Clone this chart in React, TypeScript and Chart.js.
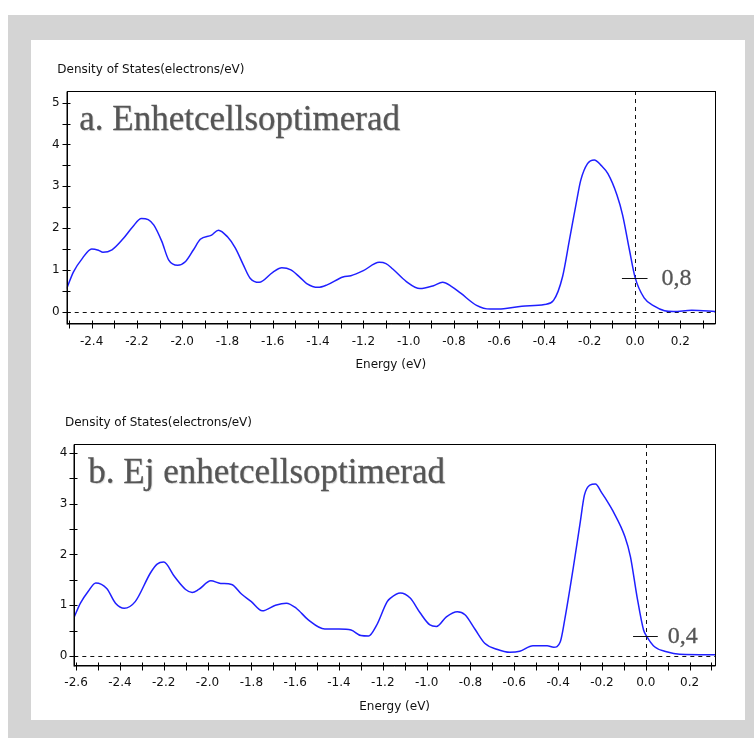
import React, { useEffect, useRef } from "react";
import { Chart, registerables } from "chart.js";

Chart.register(...registerables);

// ---------- Data: chart a ----------
const topEnergy = [
  -2.51, -2.48, -2.44, -2.40, -2.37, -2.35, -2.31, -2.26, -2.22, -2.18, -2.15, -2.125,
  -2.09, -2.06, -2.02, -1.985, -1.95, -1.92, -1.87, -1.84, -1.80, -1.765, -1.73, -1.70,
  -1.66, -1.60, -1.56, -1.52, -1.48, -1.45, -1.40, -1.36, -1.29, -1.255, -1.20, -1.13,
  -1.10, -1.07, -1.01, -0.95, -0.89, -0.85, -0.81, -0.77, -0.70, -0.64, -0.58, -0.50,
  -0.40, -0.36, -0.32, -0.29, -0.26, -0.24, -0.21, -0.18, -0.15, -0.12, -0.08, -0.055,
  -0.025, 0.0, 0.04, 0.085, 0.13, 0.17, 0.25, 0.36,
];
const topDos = [
  0.55, 0.95, 1.28, 1.50, 1.47, 1.42, 1.48, 1.75, 2.02, 2.23, 2.20, 2.07,
  1.68, 1.24, 1.11, 1.20, 1.48, 1.73, 1.83, 1.95, 1.79, 1.52, 1.12, 0.80,
  0.70, 0.94, 1.05, 1.00, 0.82, 0.67, 0.58, 0.64, 0.83, 0.86, 0.98, 1.18,
  1.15, 1.02, 0.72, 0.55, 0.62, 0.70, 0.60, 0.44, 0.15, 0.06, 0.07, 0.13,
  0.17, 0.27, 0.84, 1.71, 2.59, 3.14, 3.54, 3.63, 3.50, 3.30, 2.79, 2.31,
  1.48, 0.82, 0.33, 0.13, 0.02, 0.0, 0.03, 0.0,
];
const topXTicks = [-2.4, -2.2, -2.0, -1.8, -1.6, -1.4, -1.2, -1.0, -0.8, -0.6, -0.4, -0.2, 0.0, 0.2];
const topYTicks = [0, 1, 2, 3, 4, 5];
const topXRange = [-2.51, 0.353];
const topYRange = [-0.28, 5.28];
const topLabel = "a. Enhetcellsoptimerad";
const topMarker = 0.8;
const topMarkerLabel = "0,8";

// ---------- Data: chart b ----------
const bottomEnergy = [
  -2.61, -2.58, -2.545, -2.51, -2.46, -2.42, -2.38, -2.33, -2.26, -2.23, -2.20, -2.15,
  -2.10, -2.07, -2.04, -1.985, -1.94, -1.89, -1.845, -1.80, -1.75, -1.69, -1.64, -1.595,
  -1.54, -1.465, -1.40, -1.345, -1.30, -1.265, -1.23, -1.18, -1.165, -1.12, -1.075, -1.03,
  -0.985, -0.955, -0.91, -0.86, -0.825, -0.78, -0.735, -0.68, -0.62, -0.575, -0.515, -0.45,
  -0.42, -0.39, -0.37, -0.33, -0.30, -0.28, -0.255, -0.23, -0.20, -0.17, -0.15, -0.095,
  -0.07, -0.04, -0.01, 0.005, 0.04, 0.095, 0.155, 0.32,
];
const bottomDos = [
  0.75, 1.04, 1.27, 1.44, 1.33, 1.04, 0.94, 1.07, 1.64, 1.81, 1.85, 1.56,
  1.31, 1.25, 1.31, 1.48, 1.43, 1.41, 1.22, 1.07, 0.89, 1.00, 1.04, 0.94,
  0.71, 0.53, 0.53, 0.51, 0.40, 0.39, 0.59, 1.07, 1.14, 1.24, 1.14, 0.85,
  0.61, 0.58, 0.77, 0.87, 0.81, 0.53, 0.25, 0.13, 0.07, 0.09, 0.20, 0.20,
  0.17, 0.28, 0.71, 1.76, 2.61, 3.17, 3.37, 3.39, 3.21, 3.01, 2.86, 2.35,
  1.96, 1.17, 0.51, 0.38, 0.18, 0.08, 0.03, 0.02,
];
const bottomXTicks = [-2.6, -2.4, -2.2, -2.0, -1.8, -1.6, -1.4, -1.2, -1.0, -0.8, -0.6, -0.4, -0.2, 0.0, 0.2];
const bottomYTicks = [0, 1, 2, 3, 4];
const bottomXRange = [-2.608, 0.316];
const bottomYRange = [-0.18, 4.18];
const bottomLabel = "b. Ej enhetcellsoptimerad";
const bottomMarker = 0.4;
const bottomMarkerLabel = "0,4";

const markerSpan = [-0.058, 0.055];
const yTitle = "Density of States(electrons/eV)";
const xTitle = "Energy (eV)";

const AXIS_FONT = { family: "DejaVu Sans", size: 12 };

const decorPlugin = {
  id: "decor",
  beforeDatasetsDraw(chart: any, _args: any, opts: any) {
    const { ctx, chartArea: a, scales } = chart;
    const x = scales.x;
    const y = scales.y;
    ctx.save();
    ctx.beginPath();
    ctx.rect(a.left, a.top, a.right - a.left, a.bottom - a.top);
    ctx.clip();
    ctx.setLineDash([4, 4]);
    ctx.strokeStyle = "#111";
    ctx.lineWidth = 1;
    const y0 = Math.round(y.getPixelForValue(0)) + 0.5;
    ctx.beginPath();
    ctx.moveTo(a.left, y0);
    ctx.lineTo(a.right, y0);
    ctx.stroke();
    const x0 = Math.round(x.getPixelForValue(0)) + 0.5;
    ctx.beginPath();
    ctx.moveTo(x0, a.top);
    ctx.lineTo(x0, a.bottom);
    ctx.stroke();
    ctx.setLineDash([]);
    // big grey caption
    ctx.fillStyle = "#555";
    ctx.strokeStyle = "#5a5a5a";
    ctx.lineWidth = 0.3;
    ctx.font = '35px "Liberation Serif"';
    ctx.textBaseline = "alphabetic";
    ctx.textAlign = "left";
    ctx.shadowColor = "rgba(0,0,0,0.15)";
    ctx.shadowOffsetX = 1;
    ctx.shadowOffsetY = 1;
    ctx.shadowBlur = 1;
    ctx.fillText(opts.label, a.left + opts.labelDx, a.top + 39);
    ctx.shadowColor = "transparent";
    ctx.strokeText(opts.label, a.left + opts.labelDx, a.top + 39);
    ctx.restore();
  },
  afterDraw(chart: any, _args: any, opts: any) {
    const { ctx, chartArea: a, scales } = chart;
    const x = scales.x;
    const y = scales.y;
    ctx.save();
    // frame
    ctx.strokeStyle = "#000";
    ctx.lineWidth = 1;
    const L = Math.round(a.left) + 0.5;
    const R = Math.round(a.right) + 0.5;
    const T = Math.round(a.top) + 0.5;
    const B = Math.round(a.bottom) + 0.5;
    ctx.strokeRect(L, T, R - L, B - T);
    ctx.beginPath();
    ctx.moveTo(L - 0.5, B + 0.5);
    ctx.lineTo(R, B + 0.5);
    ctx.moveTo(L - 0.5, T);
    ctx.lineTo(L - 0.5, B + 1);
    ctx.stroke();
    // x ticks (every 0.1)
    ctx.beginPath();
    const xs = Math.ceil(x.min * 10 - 1e-9);
    const xe = Math.floor(x.max * 10 + 1e-9);
    for (let i = xs; i <= xe; i++) {
      const px = Math.round(x.getPixelForValue(i / 10)) + 0.5;
      ctx.moveTo(px, B - 3);
      ctx.lineTo(px, B + 5);
    }
    // y ticks (every 0.5)
    const ys = Math.ceil(y.min * 2 - 1e-9);
    const ye = Math.floor(y.max * 2 + 1e-9);
    for (let i = ys; i <= ye; i++) {
      const py = Math.round(y.getPixelForValue(i / 2)) + 0.5;
      ctx.moveTo(L - 5, py);
      ctx.lineTo(L + 3, py);
    }
    ctx.stroke();
    // marker
    const my = Math.round(y.getPixelForValue(opts.marker)) + 0.5;
    const mx1 = x.getPixelForValue(markerSpan[0]);
    const mx2 = x.getPixelForValue(markerSpan[1]);
    ctx.beginPath();
    ctx.moveTo(mx1, my);
    ctx.lineTo(mx2, my);
    ctx.strokeStyle = "#111";
    ctx.stroke();
    ctx.fillStyle = "#555";
    ctx.strokeStyle = "#5a5a5a";
    ctx.lineWidth = 0.3;
    ctx.font = '24px "Liberation Serif"';
    ctx.textBaseline = "middle";
    ctx.textAlign = "left";
    ctx.fillText(opts.markerLabel, mx2 + opts.markerGap, my);
    ctx.strokeText(opts.markerLabel, mx2 + opts.markerGap, my);
    // y title
    ctx.fillStyle = "#111";
    ctx.font = '12px "DejaVu Sans"';
    ctx.textBaseline = "middle";
    ctx.fillText(yTitle, a.left - 9.4, a.top - 20.7);
    ctx.restore();
  },
};

type Props = {
  energy: number[];
  dos: number[];
  xRange: number[];
  yRange: number[];
  xTicks: number[];
  yTicks: number[];
  label: string;
  labelDx: number;
  marker: number;
  markerLabel: string;
  markerGap: number;
  left: number;
  top: number;
  width: number;
  height: number;
  padTop: number;
  yAxisWidth: number;
  xAxisHeight: number;
};

function DosChart(p: Props) {
  const ref = useRef<HTMLCanvasElement | null>(null);
  useEffect(() => {
    if (!ref.current) return;
    const points = p.energy.map((e, i) => ({ x: e, y: p.dos[i] }));
    const chart = new Chart(ref.current, {
      type: "line",
      data: {
        datasets: [
          {
            data: points,
            borderColor: "#1f1fff",
            borderWidth: 1.5,
            pointRadius: 0,
            fill: false,
            cubicInterpolationMode: "monotone",
          },
        ],
      },
      options: {
        animation: false,
        responsive: false,
        events: [],
        layout: { padding: { top: p.padTop, right: 30, left: 0, bottom: 0 } },
        plugins: {
          legend: { display: false },
          tooltip: { enabled: false },
          decor: {
            label: p.label,
            labelDx: p.labelDx,
            marker: p.marker,
            markerLabel: p.markerLabel,
            markerGap: p.markerGap,
          },
        } as any,
        scales: {
          x: {
            type: "linear",
            min: p.xRange[0],
            max: p.xRange[1],
            afterBuildTicks: (s: any) => {
              s.ticks = p.xTicks.map((v) => ({ value: v }));
            },
            afterFit: (s: any) => {
              s.height = p.xAxisHeight;
            },
            ticks: {
              autoSkip: false,
              maxRotation: 0,
              padding: 11,
              color: "#111",
              font: AXIS_FONT,
              callback: (v: any) => Number(v).toFixed(1),
            },
            grid: { display: false, drawTicks: false },
            border: { display: false },
            title: {
              display: true,
              text: xTitle,
              color: "#111",
              font: AXIS_FONT,
              padding: { top: 0, bottom: p.xAxisHeight - 41.7 - 7.2 },
            },
          },
          y: {
            type: "linear",
            min: p.yRange[0],
            max: p.yRange[1],
            afterBuildTicks: (s: any) => {
              s.ticks = p.yTicks.map((v) => ({ value: v }));
            },
            afterFit: (s: any) => {
              s.width = p.yAxisWidth;
            },
            ticks: {
              padding: 7,
              color: "#111",
              font: AXIS_FONT,
              callback: (v: any) => String(v),
            },
            grid: { display: false, drawTicks: false },
            border: { display: false },
          },
        },
      },
      plugins: [decorPlugin as any],
    });
    return () => chart.destroy();
  }, []);
  return (
    <canvas
      ref={ref}
      width={p.width}
      height={p.height}
      style={{ position: "absolute", left: p.left, top: p.top, width: p.width, height: p.height }}
    />
  );
}

export default function App() {
  return (
    <div style={{ position: "absolute", left: 0, top: 0, width: 754, height: 738, background: "#fff", overflow: "hidden" }}>
      <div style={{ position: "absolute", left: 8, top: 15, width: 746, height: 723, background: "#d4d4d4" }} />
      <div style={{ position: "absolute", left: 31, top: 40, width: 714, height: 680, background: "#fff" }} />
      <DosChart
        energy={topEnergy}
        dos={topDos}
        xRange={topXRange}
        yRange={topYRange}
        xTicks={topXTicks}
        yTicks={topYTicks}
        label={topLabel}
        labelDx={12.6}
        marker={topMarker}
        markerLabel={topMarkerLabel}
        markerGap={14}
        left={31}
        top={40}
        width={714}
        height={340}
        padTop={51}
        yAxisWidth={35.7}
        xAxisHeight={56.7}
      />
      <DosChart
        energy={bottomEnergy}
        dos={bottomDos}
        xRange={bottomXRange}
        yRange={bottomYRange}
        xTicks={bottomXTicks}
        yTicks={bottomYTicks}
        label={bottomLabel}
        labelDx={14}
        marker={bottomMarker}
        markerLabel={bottomMarkerLabel}
        markerGap={10}
        left={31}
        top={390}
        width={714}
        height={330}
        padTop={54}
        yAxisWidth={43.3}
        xAxisHeight={55}
      />
    </div>
  );
}
